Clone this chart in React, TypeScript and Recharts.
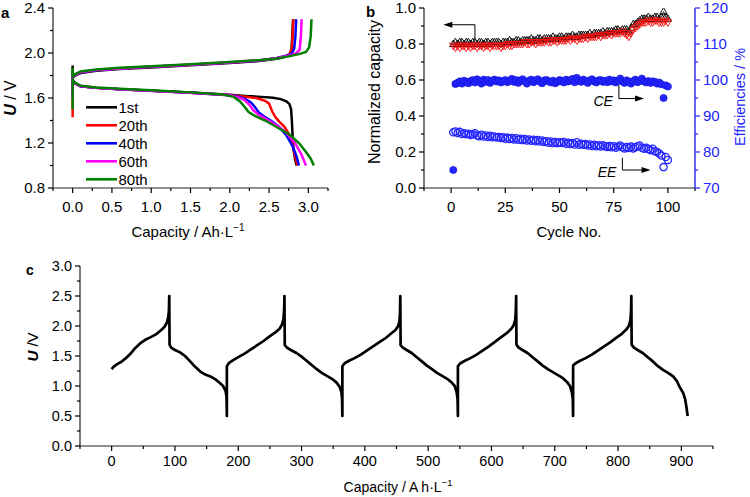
import React from "react";
import { LineChart, Line, XAxis, YAxis, ReferenceLine, Legend } from "recharts";

// ---- panel a: voltage profiles of selected cycles ----
const aLabels = ["1st", "20th", "40th", "60th", "80th"];
const aColors = ["#000000", "#ff0000", "#0000ff", "#ff00ff", "#008000"];

const aCharge: [number, number][][] = [
  [[0, 1.89], [0, 1.78], [0.03, 1.8], [0.1, 1.822], [0.3, 1.842], [0.6, 1.857], [1.0, 1.872], [1.5, 1.89], [2.0, 1.91], [2.4, 1.93], [2.6, 1.948], [2.7, 1.965], [2.76, 1.985], [2.785, 2.03], [2.795, 2.15], [2.805, 2.3]],
  [[0, 1.8], [0, 1.78], [0.03, 1.805], [0.1, 1.828], [0.3, 1.847], [0.6, 1.862], [1.0, 1.877], [1.5, 1.895], [2.0, 1.915], [2.4, 1.935], [2.6, 1.953], [2.7, 1.97], [2.76, 1.99], [2.79, 2.04], [2.8, 2.15], [2.81, 2.3]],
  [[0, 1.8], [0, 1.78], [0.03, 1.805], [0.1, 1.828], [0.3, 1.847], [0.6, 1.862], [1.0, 1.877], [1.5, 1.895], [2.0, 1.915], [2.4, 1.935], [2.6, 1.955], [2.72, 1.975], [2.79, 1.995], [2.82, 2.04], [2.835, 2.15], [2.845, 2.3]],
  [[0, 1.8], [0, 1.78], [0.03, 1.806], [0.1, 1.83], [0.3, 1.848], [0.6, 1.863], [1.0, 1.878], [1.5, 1.896], [2.0, 1.916], [2.4, 1.936], [2.6, 1.955], [2.75, 1.975], [2.84, 1.995], [2.89, 2.03], [2.905, 2.15], [2.915, 2.3]],
  [[0, 1.87], [0, 1.78], [0.03, 1.812], [0.1, 1.836], [0.3, 1.853], [0.6, 1.868], [1.0, 1.883], [1.5, 1.9], [2.0, 1.92], [2.4, 1.938], [2.6, 1.952], [2.75, 1.97], [2.88, 1.99], [2.97, 2.01], [3.01, 2.05], [3.03, 2.15], [3.04, 2.3]],
];

const aDischarge: [number, number][][] = [
  [[0, 1.76], [0.03, 1.73], [0.1, 1.705], [0.3, 1.69], [0.6, 1.678], [1.0, 1.665], [1.5, 1.648], [2.0, 1.628], [2.2, 1.618], [2.4, 1.61], [2.55, 1.602], [2.65, 1.59], [2.72, 1.57], [2.76, 1.545], [2.78, 1.5], [2.79, 1.4], [2.8, 1.25], [2.81, 1.15], [2.83, 1.06], [2.85, 1.0]],
  [[0, 1.43], [0, 1.76], [0.03, 1.73], [0.1, 1.705], [0.3, 1.69], [0.6, 1.677], [1.0, 1.664], [1.5, 1.647], [2.0, 1.627], [2.2, 1.612], [2.35, 1.598], [2.45, 1.575], [2.5, 1.55], [2.54, 1.48], [2.58, 1.43], [2.63, 1.39], [2.7, 1.34], [2.76, 1.27], [2.8, 1.18], [2.83, 1.09], [2.86, 1.0]],
  [[0, 1.6], [0, 1.76], [0.03, 1.73], [0.1, 1.705], [0.3, 1.69], [0.6, 1.677], [1.0, 1.664], [1.5, 1.646], [2.0, 1.625], [2.12, 1.61], [2.2, 1.59], [2.27, 1.56], [2.32, 1.52], [2.37, 1.47], [2.43, 1.44], [2.52, 1.4], [2.62, 1.35], [2.72, 1.27], [2.8, 1.17], [2.85, 1.08], [2.88, 1.0]],
  [[0, 1.6], [0, 1.76], [0.03, 1.73], [0.1, 1.706], [0.3, 1.691], [0.6, 1.678], [1.0, 1.665], [1.5, 1.646], [2.0, 1.624], [2.1, 1.608], [2.18, 1.585], [2.25, 1.54], [2.3, 1.49], [2.37, 1.45], [2.47, 1.41], [2.6, 1.355], [2.72, 1.29], [2.83, 1.2], [2.91, 1.1], [2.97, 1.0]],
  [[0, 1.5], [0, 1.76], [0.03, 1.735], [0.1, 1.71], [0.3, 1.694], [0.6, 1.682], [1.0, 1.668], [1.5, 1.65], [1.9, 1.632], [2.05, 1.61], [2.13, 1.57], [2.19, 1.52], [2.24, 1.475], [2.32, 1.44], [2.45, 1.4], [2.6, 1.34], [2.75, 1.28], [2.88, 1.2], [2.97, 1.12], [3.03, 1.06], [3.07, 1.0]],
];

const aXTicks = [-0.25, 0, 0.25, 0.5, 0.75, 1, 1.25, 1.5, 1.75, 2, 2.25, 2.5, 2.75, 3, 3.25];
const aXMajor = [0, 0.5, 1, 1.5, 2, 2.5, 3];
const aYTicks = [0.8, 1.0, 1.2, 1.4, 1.6, 1.8, 2.0, 2.2, 2.4];
const aYMajor = [0.8, 1.2, 1.6, 2.0, 2.4];

// ---- panel b: cycling performance ----
const bCapCharge = [
  0.8, 0.81, 0.8, 0.81, 0.81, 0.8, 0.81, 0.81, 0.8, 0.81,
  0.81, 0.8, 0.81, 0.81, 0.8, 0.81, 0.81, 0.8, 0.81, 0.81,
  0.81, 0.81, 0.8, 0.81, 0.81, 0.81, 0.82, 0.81, 0.81, 0.82,
  0.82, 0.81, 0.82, 0.82, 0.82, 0.82, 0.83, 0.82, 0.82, 0.83,
  0.83, 0.82, 0.83, 0.83, 0.83, 0.83, 0.84, 0.83, 0.83, 0.84,
  0.84, 0.83, 0.84, 0.84, 0.84, 0.85, 0.84, 0.84, 0.85, 0.85,
  0.85, 0.85, 0.85, 0.86, 0.85, 0.86, 0.86, 0.86, 0.86, 0.87,
  0.86, 0.87, 0.87, 0.87, 0.87, 0.88, 0.88, 0.87, 0.88, 0.88,
  0.88, 0.87, 0.89, 0.91, 0.91, 0.92, 0.93, 0.94, 0.94, 0.94,
  0.95, 0.94, 0.94, 0.95, 0.95, 0.94, 0.95, 0.98, 0.95, 0.94,
];
const bCapDischarge = [
  0.79, 0.78, 0.79, 0.78, 0.79, 0.79, 0.78, 0.79, 0.78, 0.79,
  0.79, 0.78, 0.79, 0.79, 0.78, 0.79, 0.79, 0.78, 0.79, 0.79,
  0.79, 0.79, 0.78, 0.79, 0.79, 0.8, 0.79, 0.79, 0.8, 0.8,
  0.8, 0.8, 0.8, 0.81, 0.8, 0.8, 0.81, 0.81, 0.8, 0.81,
  0.81, 0.81, 0.81, 0.82, 0.81, 0.81, 0.82, 0.82, 0.81, 0.82,
  0.82, 0.82, 0.82, 0.83, 0.82, 0.83, 0.83, 0.82, 0.83, 0.83,
  0.83, 0.84, 0.83, 0.84, 0.84, 0.84, 0.84, 0.85, 0.84, 0.85,
  0.85, 0.85, 0.86, 0.85, 0.86, 0.86, 0.86, 0.86, 0.87, 0.86,
  0.85, 0.84, 0.86, 0.88, 0.89, 0.9, 0.91, 0.92, 0.92, 0.92,
  0.93, 0.92, 0.92, 0.93, 0.93, 0.92, 0.92, 0.92, 0.93, 0.92,
];
const bCE = [
  75.0, 98.9, 99.2, 99.6, 99.0, 99.8, 99.4, 99.1, 99.7, 100.0,
  99.3, 100.2, 99.6, 99.0, 100.1, 99.5, 100.0, 99.2, 99.8, 100.1,
  99.6, 99.9, 99.3, 99.7, 100.0, 99.4, 99.8, 100.3, 99.5, 100.0,
  99.2, 99.9, 100.2, 99.6, 99.0, 99.8, 100.1, 99.4, 99.9, 100.2,
  99.5, 99.1, 99.9, 100.0, 99.6, 99.3, 99.8, 99.1, 99.5, 100.0,
  99.7, 99.3, 100.1, 99.6, 99.9, 100.3, 99.4, 100.6, 99.8, 99.5,
  100.1, 99.7, 99.2, 99.9, 100.2, 99.6, 99.3, 99.9, 100.0, 99.5,
  99.8, 99.4, 100.1, 99.6, 99.9, 99.3, 99.8, 100.4, 99.6, 99.2,
  99.9, 99.5, 99.0, 99.7, 100.1, 99.4, 99.8, 100.4, 99.6, 99.3,
  99.7, 99.2, 99.6, 99.5, 99.0, 99.3, 98.8, 95.0, 98.5, 98.2,
];
const bEE = [
  85.5, 85.7, 85.3, 85.6, 85.0, 85.2, 84.9, 85.1, 84.7, 84.9,
  85.2, 84.6, 84.4, 84.8, 84.3, 84.6, 84.2, 84.5, 84.1, 84.3,
  84.0, 84.2, 83.9, 84.1, 83.7, 84.0, 83.6, 83.9, 83.5, 83.8,
  83.4, 83.7, 83.3, 83.6, 83.2, 83.5, 83.1, 83.4, 83.0, 83.3,
  82.9, 83.2, 82.8, 83.0, 82.6, 82.9, 82.5, 82.8, 82.4, 82.7,
  82.5, 82.8, 82.3, 82.6, 82.2, 82.5, 82.1, 82.7, 82.0, 82.3,
  82.0, 82.2, 81.8, 82.1, 81.7, 82.0, 81.6, 81.9, 81.5, 81.9,
  81.6, 81.4, 81.7, 81.3, 81.6, 81.2, 81.5, 81.8, 81.3, 81.0,
  81.4, 81.1, 81.5, 81.0, 81.3, 81.6, 81.8, 81.2, 80.9, 81.2,
  80.8, 80.5, 80.9, 80.2, 80.0, 79.6, 79.0, 75.8, 78.6, 77.8,
];
const bCycles = bCE.map((_, i) => i + 1);

const bXTicks = [-12.5, 0, 12.5, 25, 37.5, 50, 62.5, 75, 87.5, 100, 112.5];
const bXMajor = [0, 25, 50, 75, 100];
const bLTicks = [0, 0.1, 0.2, 0.3, 0.4, 0.5, 0.6, 0.7, 0.8, 0.9, 1.0];
const bLMajor = [0, 0.2, 0.4, 0.6, 0.8, 1.0];
const bRTicks = [70, 75, 80, 85, 90, 95, 100, 105, 110, 115, 120];
const bRMajor = [70, 80, 90, 100, 110, 120];

// ---- panel c: long galvanostatic run ----
const cCurve: [number, number][] = [
  [0, 1.28], [3, 1.32], [8, 1.36], [15, 1.4], [22, 1.46], [30, 1.54], [37, 1.63], [45, 1.71], [53, 1.77], [61, 1.81], [70, 1.86], [77, 1.92], [83, 1.98], [87, 2.05], [89.5, 2.15], [90.5, 2.27], [91, 2.5],
  [91.5, 1.69], [94, 1.64], [100, 1.6], [108, 1.56], [116, 1.5], [124, 1.41], [132, 1.32], [140, 1.24], [148, 1.19], [156, 1.16], [164, 1.11], [171, 1.05], [176, 1.0], [180, 0.92], [181.5, 0.82], [182, 0.5],
  [182, 1.33], [185, 1.38], [192, 1.43], [200, 1.48], [210, 1.54], [220, 1.61], [230, 1.68], [240, 1.75], [250, 1.83], [258, 1.89], [265, 1.95], [269, 2.02], [271.5, 2.12], [272.5, 2.28], [273, 2.5],
  [273.5, 1.68], [277, 1.64], [283, 1.6], [292, 1.55], [300, 1.49], [308, 1.42], [316, 1.35], [324, 1.28], [332, 1.22], [340, 1.17], [348, 1.12], [355, 1.06], [360, 0.99], [363, 0.9], [364, 0.78], [364.5, 0.5],
  [364.5, 1.33], [368, 1.38], [375, 1.42], [383, 1.46], [393, 1.52], [403, 1.59], [413, 1.66], [423, 1.73], [433, 1.8], [441, 1.87], [448, 1.93], [452, 1.99], [454.5, 2.07], [455.5, 2.2], [456, 2.5],
  [456.5, 1.68], [460, 1.64], [466, 1.6], [474, 1.55], [482, 1.48], [490, 1.41], [498, 1.34], [506, 1.28], [514, 1.22], [522, 1.17], [530, 1.12], [537, 1.06], [542, 1.0], [545, 0.9], [546.5, 0.78], [547, 0.5],
  [547, 1.33], [551, 1.38], [558, 1.42], [566, 1.46], [576, 1.52], [586, 1.59], [596, 1.66], [606, 1.74], [616, 1.82], [624, 1.88], [631, 1.95], [635, 2.01], [637.5, 2.1], [638.5, 2.25], [639, 2.5],
  [639.5, 1.69], [643, 1.64], [649, 1.6], [657, 1.55], [665, 1.48], [673, 1.41], [681, 1.34], [689, 1.28], [697, 1.23], [705, 1.18], [713, 1.13], [720, 1.06], [724, 1.0], [727, 0.9], [728.5, 0.78], [729, 0.5],
  [729, 1.34], [733, 1.38], [740, 1.42], [748, 1.46], [758, 1.52], [768, 1.59], [778, 1.66], [788, 1.73], [798, 1.81], [806, 1.87], [813, 1.94], [817, 2.0], [819.5, 2.1], [820.5, 2.25], [821, 2.5],
  [821.5, 1.69], [825, 1.64], [831, 1.6], [839, 1.55], [847, 1.48], [855, 1.41], [863, 1.33], [871, 1.27], [879, 1.22], [887, 1.16], [893, 1.08], [897, 0.99], [903, 0.88], [906, 0.78], [908, 0.65], [910, 0.5],
];

const cXTicks = [-50, 0, 50, 100, 150, 200, 250, 300, 350, 400, 450, 500, 550, 600, 650, 700, 750, 800, 850, 900, 950];
const cXMajor = [0, 100, 200, 300, 400, 500, 600, 700, 800, 900];
const cYTicks = [0, 0.25, 0.5, 0.75, 1, 1.25, 1.5, 1.75, 2, 2.25, 2.5, 2.75, 3];
const cYMajor = [0, 0.5, 1, 1.5, 2, 2.5, 3];

const FONT = "'Liberation Sans', Arial, sans-serif";
const BLUE = "#2424ff";
const AXIS = "#222";

const toPts = (arr: [number, number][]) => arr.map(([cap, u]) => ({ cap, u }));

type Side = "left" | "right" | "bottom";
function makeTick(side: Side, majors: number[], fmt: (v: number) => string, color: string, size: number, off: number) {
  return function Tick(props: any) {
    const { x, y, payload } = props;
    const v = Number(payload.value);
    const major = majors.some((m) => Math.abs(m - v) < 1e-6);
    const len = major ? 5 : 3;
    if (side === "bottom") {
      return (
        <g>
          <line x1={x} x2={x} y1={y} y2={y + len} stroke={color} strokeWidth={1.2} />
          {major && (
            <text x={x} y={y + off} textAnchor="middle" fontSize={size} fill={color}>
              {fmt(v)}
            </text>
          )}
        </g>
      );
    }
    const d = side === "left" ? -1 : 1;
    return (
      <g>
        <line x1={x} x2={x + d * len} y1={y} y2={y} stroke={color} strokeWidth={1.2} />
        {major && (
          <text x={x + d * off} y={y} dy="0.36em" textAnchor={side === "left" ? "end" : "start"} fontSize={size} fill={color}>
            {fmt(v)}
          </text>
        )}
      </g>
    );
  };
}

const f1 = (v: number) => v.toFixed(1);
const f0 = (v: number) => v.toFixed(0);

// elbow arrow: vertical from (x1,y1) to y2, then horizontal to tip (x2,y2)
function makeElbow(text?: string) {
  return function Elbow(props: any) {
    const { x1, y1, x2, y2 } = props;
    const d = x2 > x1 ? 1 : -1;
    return (
      <g>
        <polyline points={`${x1},${y1} ${x1},${y2} ${x2 - d * 7},${y2}`} fill="none" stroke="#000" strokeWidth={1} />
        <polygon points={`${x2},${y2} ${x2 - d * 9},${y2 - 3} ${x2 - d * 9},${y2 + 3}`} fill="#000" />
        {text && (
          <text x={x1 - 6} y={y2 + 2} dy="0.36em" textAnchor="end" fontSize={14} fontStyle="italic" fill="#000">
            {text}
          </text>
        )}
      </g>
    );
  };
}

const TriUp = (p: any) => {
  const { cx, cy, index } = p;
  return (
    <polygon key={`tu${index}`} points={`${cx},${cy - 4} ${cx - 3.7},${cy + 2.6} ${cx + 3.7},${cy + 2.6}`} fill="none" stroke="#000" strokeWidth={0.9} />
  );
};
const TriDown = (p: any) => {
  const { cx, cy, index } = p;
  return (
    <polygon key={`td${index}`} points={`${cx},${cy + 4} ${cx - 3.7},${cy - 2.6} ${cx + 3.7},${cy - 2.6}`} fill="none" stroke="#ff1010" strokeWidth={0.9} />
  );
};
const Filled = (p: any) => <circle key={`f${p.index}`} cx={p.cx} cy={p.cy} r={3.6} fill={BLUE} stroke="#1010d0" strokeWidth={0.6} />;
const Open = (p: any) => <circle key={`o${p.index}`} cx={p.cx} cy={p.cy} r={3.6} fill="none" stroke={BLUE} strokeWidth={1.3} />;

function PanelA() {
  return (
    <LineChart width={345} height={250} margin={{ top: 8, right: 17, bottom: 32, left: 0 }}>
      <XAxis
        dataKey="cap"
        type="number"
        domain={[-0.25, 3.25]}
        ticks={aXTicks}
        interval={0}
        allowDataOverflow
        height={30}
        tickSize={0}
        tickMargin={0}
        tickLine={false}
        axisLine={{ stroke: AXIS, strokeWidth: 1.2 }}
        tick={makeTick("bottom", aXMajor, f1, "#000", 15, 24)}
      />
      <YAxis
        type="number"
        domain={[0.8, 2.4]}
        ticks={aYTicks}
        interval={0}
        allowDataOverflow
        width={53}
        tickSize={0}
        tickMargin={0}
        tickLine={false}
        axisLine={{ stroke: AXIS, strokeWidth: 1.2 }}
        tick={makeTick("left", aYMajor, f1, "#000", 15, 8)}
      />
      {aLabels.map((lab, i) => (
        <Line
          key={`c${lab}`}
          data={toPts(aCharge[i])}
          dataKey="u"
          name={lab}
          type="linear"
          stroke={aColors[i]}
          strokeWidth={2.5}
          dot={false}
          legendType="none"
          isAnimationActive={false}
        />
      ))}
      {aLabels.map((lab, i) => (
        <Line
          key={`d${lab}`}
          data={toPts(aDischarge[i])}
          dataKey="u"
          name={lab}
          type="linear"
          stroke={aColors[i]}
          strokeWidth={2.5}
          dot={false}
          legendType="none"
          isAnimationActive={false}
        />
      ))}
      <Legend
        layout="vertical"
        align="center"
        verticalAlign="middle"
        wrapperStyle={{ left: 84, top: 97, width: 80, height: 95 }}
        content={() => (
          <svg width={80} height={95} style={{ display: "block" }}>
            {aLabels.map((lab, i) => (
              <g key={lab}>
                <line x1={2} x2={33} y1={10.3 + i * 18} y2={10.3 + i * 18} stroke={aColors[i]} strokeWidth={2.6} />
                <text x={34.5} y={10.3 + i * 18} dy="0.36em" fontSize={15} fontFamily={FONT} fill="#000">
                  {lab}
                </text>
              </g>
            ))}
          </svg>
        )}
      />
    </LineChart>
  );
}

function PanelB() {
  const table = bCycles.map((c, i) => ({ cycle: c, capA: bCapCharge[i], capB: bCapDischarge[i], ce: bCE[i], ee: bEE[i] }));
  return (
    <LineChart width={380} height={250} data={table} margin={{ top: 8, right: 0, bottom: 32, left: 0 }}>
      <XAxis
        dataKey="cycle"
        type="number"
        domain={[-12.5, 112.5]}
        ticks={bXTicks}
        interval={0}
        allowDataOverflow
        height={30}
        tickSize={0}
        tickMargin={0}
        tickLine={false}
        axisLine={{ stroke: AXIS, strokeWidth: 1.2 }}
        tick={makeTick("bottom", bXMajor, f0, "#000", 15, 24)}
      />
      <YAxis
        yAxisId="left"
        type="number"
        domain={[0, 1]}
        ticks={bLTicks}
        interval={0}
        allowDataOverflow
        width={54}
        tickSize={0}
        tickMargin={0}
        tickLine={false}
        axisLine={{ stroke: AXIS, strokeWidth: 1.2 }}
        tick={makeTick("left", bLMajor, f1, "#000", 15, 8)}
      />
      <YAxis
        yAxisId="right"
        orientation="right"
        type="number"
        domain={[70, 120]}
        ticks={bRTicks}
        interval={0}
        allowDataOverflow
        width={55}
        tickSize={0}
        tickMargin={0}
        tickLine={false}
        axisLine={{ stroke: BLUE, strokeWidth: 1.4 }}
        tick={makeTick("right", bRMajor, f0, BLUE, 15, 8)}
      />
      <Line yAxisId="left" dataKey="capA" type="linear" stroke="#000" strokeWidth={0.8} dot={TriUp} isAnimationActive={false} />
      <Line yAxisId="left" dataKey="capB" type="linear" stroke="#ff1010" strokeWidth={0.8} dot={TriDown} isAnimationActive={false} />
      <Line yAxisId="right" dataKey="ce" stroke="none" dot={Filled} isAnimationActive={false} />
      <Line yAxisId="right" dataKey="ee" stroke="none" dot={Open} isAnimationActive={false} />
      <ReferenceLine yAxisId="left" segment={[{ x: 11, y: 0.82 }, { x: -3.6, y: 0.907 }]} shape={makeElbow()} />
      <ReferenceLine yAxisId="left" segment={[{ x: 77.4, y: 0.571 }, { x: 89, y: 0.497 }]} shape={makeElbow("CE")} />
      <ReferenceLine yAxisId="left" segment={[{ x: 79, y: 0.168 }, { x: 92, y: 0.1 }]} shape={makeElbow("EE")} />
    </LineChart>
  );
}

function PanelC() {
  return (
    <LineChart width={750} height={247} data={toPts(cCurve)} margin={{ top: 16, right: 37, bottom: 21, left: 0 }}>
      <XAxis
        dataKey="cap"
        type="number"
        domain={[-50, 950]}
        ticks={cXTicks}
        interval={0}
        allowDataOverflow
        height={30}
        tickSize={0}
        tickMargin={0}
        tickLine={false}
        axisLine={{ stroke: AXIS, strokeWidth: 1.2 }}
        tick={makeTick("bottom", cXMajor, f0, "#000", 14.5, 20)}
      />
      <YAxis
        type="number"
        domain={[0, 3]}
        ticks={cYTicks}
        interval={0}
        allowDataOverflow
        width={80}
        tickSize={0}
        tickMargin={0}
        tickLine={false}
        axisLine={{ stroke: AXIS, strokeWidth: 1.2 }}
        tick={makeTick("left", cYMajor, f1, "#000", 14.5, 8)}
      />
      <Line dataKey="u" type="linear" stroke="#000" strokeWidth={2.7} strokeLinejoin="round" dot={false} isAnimationActive={false} />
    </LineChart>
  );
}

export default function App() {
  return (
    <div style={{ position: "absolute", left: 0, top: 0, width: 750, height: 497, background: "#fff", fontFamily: FONT, overflow: "hidden" }}>
      <div style={{ position: "absolute", left: 0, top: 0 }}>
        <PanelA />
      </div>
      <div style={{ position: "absolute", left: 370, top: 0 }}>
        <PanelB />
      </div>
      <div style={{ position: "absolute", left: 0, top: 250 }}>
        <PanelC />
      </div>
      <svg width={750} height={497} style={{ position: "absolute", left: 0, top: 0, pointerEvents: "none" }} fontFamily={FONT}>
        <text x={1} y={18} fontSize={15} fontWeight="bold">a</text>
        <text x={366} y={17} fontSize={15} fontWeight="bold">b</text>
        <text x={26} y={275} fontSize={14} fontWeight="bold">c</text>

        <text x={16} y={98} transform="rotate(-90, 16, 98)" textAnchor="middle" fontSize={16}>
          <tspan fontWeight="bold" fontStyle="italic">U</tspan> / V
        </text>
        <text x={188} y={237} textAnchor="middle" fontSize={15}>
          Capacity / Ah·L<tspan dy={-6} fontSize={10}>−1</tspan>
        </text>

        <text x={380} y={92} transform="rotate(-90, 380, 92)" textAnchor="middle" fontSize={16}>
          Normalized capacity
        </text>
        <text x={745} y={97} transform="rotate(-90, 745, 97)" textAnchor="middle" fontSize={14.5} fill={BLUE}>
          Efficiencies / %
        </text>
        <text x={569} y={237} textAnchor="middle" fontSize={15}>
          Cycle No.
        </text>

        <text x={38} y={347} transform="rotate(-90, 38, 347)" textAnchor="middle" fontSize={15}>
          <tspan fontWeight="bold" fontStyle="italic">U</tspan> /V
        </text>
        <text x={398} y={492} textAnchor="middle" fontSize={14}>
          Capacity / A h·L<tspan dy={-6} fontSize={9.5}>−1</tspan>
        </text>
      </svg>
    </div>
  );
}
